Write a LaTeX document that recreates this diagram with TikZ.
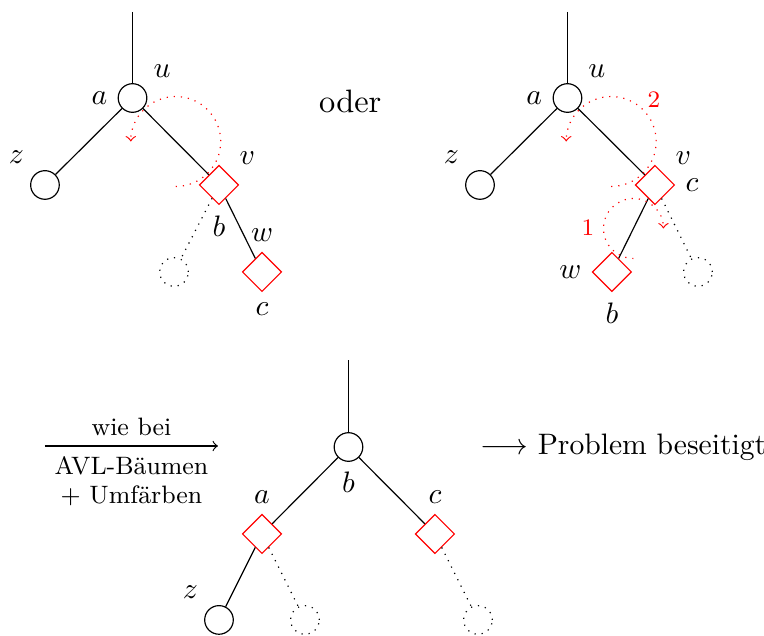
\documentclass[tikz,border=0pt]{standalone}
\usepackage{amsmath}
\usetikzlibrary{shapes.geometric, arrows, positioning, calc}

\begin{document}
\begin{tikzpicture}[
    blacknode/.style={draw, circle, minimum size=0.34cm, inner sep=0pt},
    rednode/.style={draw=red, diamond, minimum size=0.467cm, inner sep=0pt},
    nilleaf/.style={draw, dotted, circle, minimum size=0.34cm, inner sep=0pt},
    niledge/.style={dotted},
    rotation/.style={red, dotted, ->},
    rotnum/.style={red, font=\footnotesize},
    smalltext/.style={font=\fontsize{8.5}{9.8}\selectfont}]
  \useasboundingbox (0,0) rectangle (9.074,-7.553);

  % links: Einfachrotation
  \coordinate (top1) at (1.574,-0.14);
  \node[blacknode, label=45:$u$, label=180:$a$] (u1) at (1.574,-1.164) {};
  \node[blacknode, label=135:$z$] (z1) at (0.534,-2.197) {};
  \node[rednode, label=45:$v$, label=below:$b$] (v1) at (2.601,-2.197) {};
  \node[nilleaf] (n1) at (2.067,-3.230) {};
  \node[rednode, label=above:$w$, label=below:$c$] (w1) at (3.112,-3.230) {};
  \draw (top1) -- (u1);
  \draw (u1) -- (z1);
  \draw (u1) -- (v1);
  \draw[niledge] (v1) -- (n1);
  \draw (v1) -- (w1);
  \draw[rotation] ($(u1)!0.5!(v1)+(0,-0.534)$) arc[start angle=-90, end angle=180, radius=0.534];

  \node[font=\fontsize{10.95}{13}\selectfont] (oder) at (4.16,-1.21) {oder};

  % rechts: Doppelrotation
  \coordinate (top2) at (6.740,-0.14);
  \node[blacknode, label=45:$u$, label=180:$a$] (u2) at (6.740,-1.164) {};
  \node[blacknode, label=135:$z$] (z2) at (5.701,-2.197) {};
  \node[rednode, label=45:$v$, label=right:$c$] (v2) at (7.779,-2.197) {};
  \node[rednode, label=left:$w$, label=below:$b$] (w2) at (7.268,-3.230) {};
  \node[nilleaf] (n2) at (8.290,-3.230) {};
  \draw (top2) -- (u2);
  \draw (u2) -- (z2);
  \draw (u2) -- (v2);
  \draw (v2) -- (w2);
  \draw[niledge] (v2) -- (n2);
  \draw[rotation] ($(v2)!0.5!(w2)+(0,-0.356)$) arc[start angle=-90, end angle=-360, radius=0.356];
  \draw[rotation] ($(u2)!0.5!(v2)+(0,-0.534)$) arc[start angle=-90, end angle=180, radius=0.534];
  \node[rotnum] (one) at (6.983,-2.708) {1};
  \node[rotnum] (two) at (7.767,-1.180) {2};

  % Pfeil
  \coordinate (from) at (0.534,-5.297);
  \coordinate (to) at (2.589,-5.297);
  \draw[->] (from) -- (to)
    node[midway, above, smalltext] {wie bei}
    node[midway, below, smalltext, align=center] {AVL-Bäumen\\+ Umfärben};

  % unten: Ergebnis
  \coordinate (top3) at (4.139,-4.276);
  \node[blacknode, label=below:$b$] (b3) at (4.139,-5.309) {};
  \node[rednode, label=above:$a$] (a3) at (3.112,-6.342) {};
  \node[rednode, label=above:$c$] (c3) at (5.166,-6.342) {};
  \node[blacknode, label=135:$z$] (z3) at (2.601,-7.363) {};
  \node[nilleaf] (n3) at (3.622,-7.363) {};
  \node[nilleaf] (n4) at (5.677,-7.363) {};
  \draw (top3) -- (b3);
  \draw (b3) -- (a3);
  \draw (b3) -- (c3);
  \draw (a3) -- (z3);
  \draw[niledge] (a3) -- (n3);
  \draw[niledge] (c3) -- (n4);

  \node[anchor=west] (result) at (5.58,-5.31) {$\longrightarrow$ Problem beseitigt};
\end{tikzpicture}
\end{document}
